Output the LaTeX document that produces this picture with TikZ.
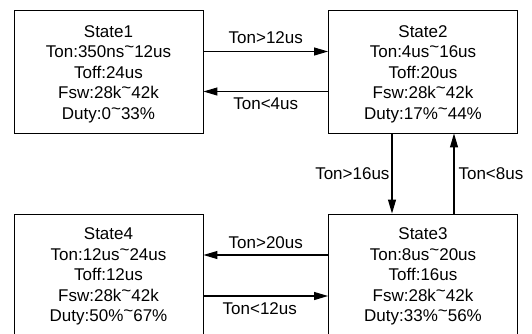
\documentclass[tikz,border=0pt]{standalone}
\usepackage{fontspec}
\setmainfont{Liberation Sans}
\usetikzlibrary{arrows.meta}
\newcommand\tld{\raisebox{.3em}{\textasciitilde}}
\begin{document}
\begin{tikzpicture}[x=1pt,y=-1pt,
  box/.style={draw=black, line width=0.9pt, minimum width=189pt, minimum height=123pt, inner sep=0pt},
  boxtxt/.style={align=center, inner sep=0pt, font=\fontsize{17}{20.5}\selectfont},
  lbl/.style={font=\fontsize{17}{20}\selectfont, inner sep=0pt},
  arr/.style={line width=1.1pt, -{Triangle[length=14pt,width=8pt]}}]
\useasboundingbox (0,0) rectangle (532,333);
\node[box] (s1) at (108.5,71.5) {};
\node[box] (s2) at (423,71.5) {};
\node[box] (s4) at (108.5,275.5) {};
\node[box] (s3) at (423,275.5) {};
\node[boxtxt] (t1) at ([yshift=-2.5pt]s1.center) {State1\\Ton:350ns\tld12us\\Toff:24us\\Fsw:28k\tld42k\\Duty:0\tld33\%};
\node[boxtxt] (t2) at ([yshift=-2.5pt]s2.center) {State2\\Ton:4us\tld16us\\Toff:20us\\Fsw:28k\tld42k\\Duty:17\%\tld44\%};
\node[boxtxt] (t4) at ([yshift=-1pt]s4.center) {State4\\Ton:12us\tld24us\\Toff:12us\\Fsw:28k\tld42k\\Duty:50\%\tld67\%};
\node[boxtxt] (t3) at ([yshift=-1pt]s3.center) {State3\\Ton:8us\tld20us\\Toff:16us\\Fsw:28k\tld42k\\Duty:33\%\tld56\%};
\draw[arr] ([yshift=20pt]s1.east) -- node[lbl, anchor=base, yshift=8pt] {Ton>12us} ([yshift=20pt]s2.west);
\draw[arr] ([yshift=-20pt]s2.west) -- node[lbl, anchor=base, yshift=-18pt] {Ton<4us} ([yshift=-20pt]s1.east);
\draw[arr] ([xshift=-31pt]s2.south) -- node[lbl, anchor=east, xshift=-2pt] {Ton>16us} ([xshift=-31pt]s3.north);
\draw[arr] ([xshift=31pt]s3.north) -- node[lbl, anchor=west, xshift=4pt] {Ton<8us} ([xshift=31pt]s2.south);
\draw[arr] ([yshift=20.5pt]s3.west) -- node[lbl, anchor=base, yshift=7pt] {Ton>20us} ([yshift=20.5pt]s4.east);
\draw[arr] ([yshift=-20.5pt]s4.east) -- node[lbl, anchor=base, yshift=-18pt, xshift=-6pt] {Ton<12us} ([yshift=-20.5pt]s3.west);
\end{tikzpicture}
\end{document}
